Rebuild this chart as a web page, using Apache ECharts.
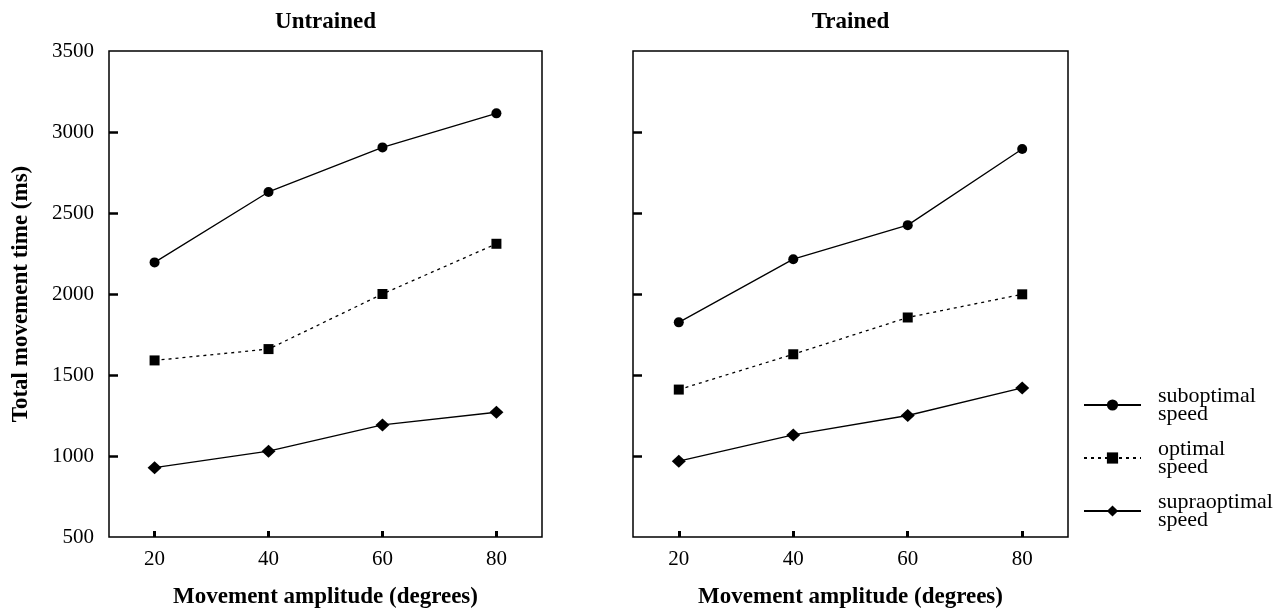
<!DOCTYPE html>
<html><head><meta charset="utf-8">
<script src="https://cdn.jsdelivr.net/npm/echarts@6/dist/echarts.min.js"></script>
<style>html,body{margin:0;padding:0;background:#fff}#c{width:1283px;height:614px}</style>
</head><body><div id="c"></div>
<script>
// ---- data ----
const amplitudes = [20, 40, 60, 80];
const untrainedSuboptimal = [2195, 2630, 2905, 3115];
const untrainedOptimal = [1590, 1660, 2000, 2310];
const untrainedSupraoptimal = [928, 1030, 1192, 1270];
const trainedSuboptimal = [1825, 2215, 2425, 2895];
const trainedOptimal = [1410, 1628, 1855, 1998];
const trainedSupraoptimal = [968, 1130, 1250, 1420];
const yTickValues = [1000, 1500, 2000, 2500, 3000];
const xTickValues = [20, 40, 60, 80];
const panelTitles = ['Untrained', 'Trained'];
const seriesNames = ['suboptimal\nspeed', 'optimal\nspeed', 'supraoptimal\nspeed'];
const yAxisTitle = 'Total movement time (ms)';
const xAxisTitle = 'Movement amplitude (degrees)';

// ---- chart ----
const FONT = '"Liberation Serif", "DejaVu Serif", serif';
const chart = echarts.init(document.getElementById('c'), null, {renderer: 'canvas'});
const grids = [
  {left: 109, top: 51, width: 433, height: 488},
  {left: 633, top: 51, width: 435, height: 488}
];
function pts(vals) { return amplitudes.map((a, i) => [a, vals[i]]); }
const panelData = [
  [untrainedSuboptimal, untrainedOptimal, untrainedSupraoptimal],
  [trainedSuboptimal, trainedOptimal, trainedSupraoptimal]
];
const symbols = [
  {symbol: 'circle', size: 10, line: 'solid'},
  {symbol: 'rect', size: 10, line: [3, 4]},
  {symbol: 'diamond', size: [14, 13], line: 'solid'}
];
const series = [];
panelData.forEach((panel, p) => {
  panel.forEach((vals, s) => {
    series.push({
      type: 'line', name: seriesNames[s], xAxisIndex: p, yAxisIndex: p,
      data: pts(vals), symbol: symbols[s].symbol, symbolSize: symbols[s].size,
      showSymbol: true, animation: false,
      itemStyle: {color: '#000', borderWidth: 0},
      lineStyle: {color: '#000', width: 1.3, type: symbols[s].line}
    });
  });
});
const option = {
  backgroundColor: '#fff',
  animation: false,
  grid: grids.map(g => Object.assign({show: true, borderColor: '#000', borderWidth: 1.5, backgroundColor: 'transparent'}, g)),
  xAxis: [0, 1].map(i => ({
    type: 'value', gridIndex: i, min: 12, max: 88,
    splitLine: {show: false},
    axisLine: {show: false},
    axisTick: {show: true, inside: true, length: 6, customValues: xTickValues, lineStyle: {color: '#000', width: 3}},
    axisLabel: {show: true, customValues: xTickValues, margin: 12, color: '#000', fontFamily: FONT, fontSize: 21,
      formatter: v => String(v)},
    name: xAxisTitle, nameLocation: 'middle', nameGap: 49,
    nameTextStyle: {color: '#000', fontFamily: FONT, fontSize: 23, fontWeight: 'bold'}
  })),
  yAxis: [0, 1].map(i => ({
    type: 'value', gridIndex: i, min: 500, max: 3500, interval: 500,
    splitLine: {show: false},
    axisLine: {show: false},
    axisTick: {show: true, inside: true, length: 9, customValues: yTickValues, lineStyle: {color: '#000', width: 2.5}},
    axisLabel: {show: i === 0, margin: 15, color: '#000', fontFamily: FONT, fontSize: 21,
      formatter: v => String(v)},
    name: i === 0 ? yAxisTitle : '', nameLocation: 'middle', nameGap: 76,
    nameTextStyle: {color: '#000', fontFamily: FONT, fontSize: 23, fontWeight: 'bold'}
  })),
  legend: {
    orient: 'vertical', left: 1078, top: 380, itemWidth: 57, itemHeight: 14, itemGap: 13,
    selectedMode: false, data: seriesNames,
    textStyle: {color: '#000', fontFamily: FONT, fontSize: 22, lineHeight: 18, padding: [0, 0, 0, 12]}
  },
  graphic: panelTitles.map((t, i) => ({
    type: 'text', x: grids[i].left + grids[i].width / 2, y: 22,
    style: {text: t, textAlign: 'center', textVerticalAlign: 'middle', fill: '#000',
      font: 'bold 23px ' + FONT}
  })),
  series: series
};
chart.setOption(option);
</script>
</body></html>
